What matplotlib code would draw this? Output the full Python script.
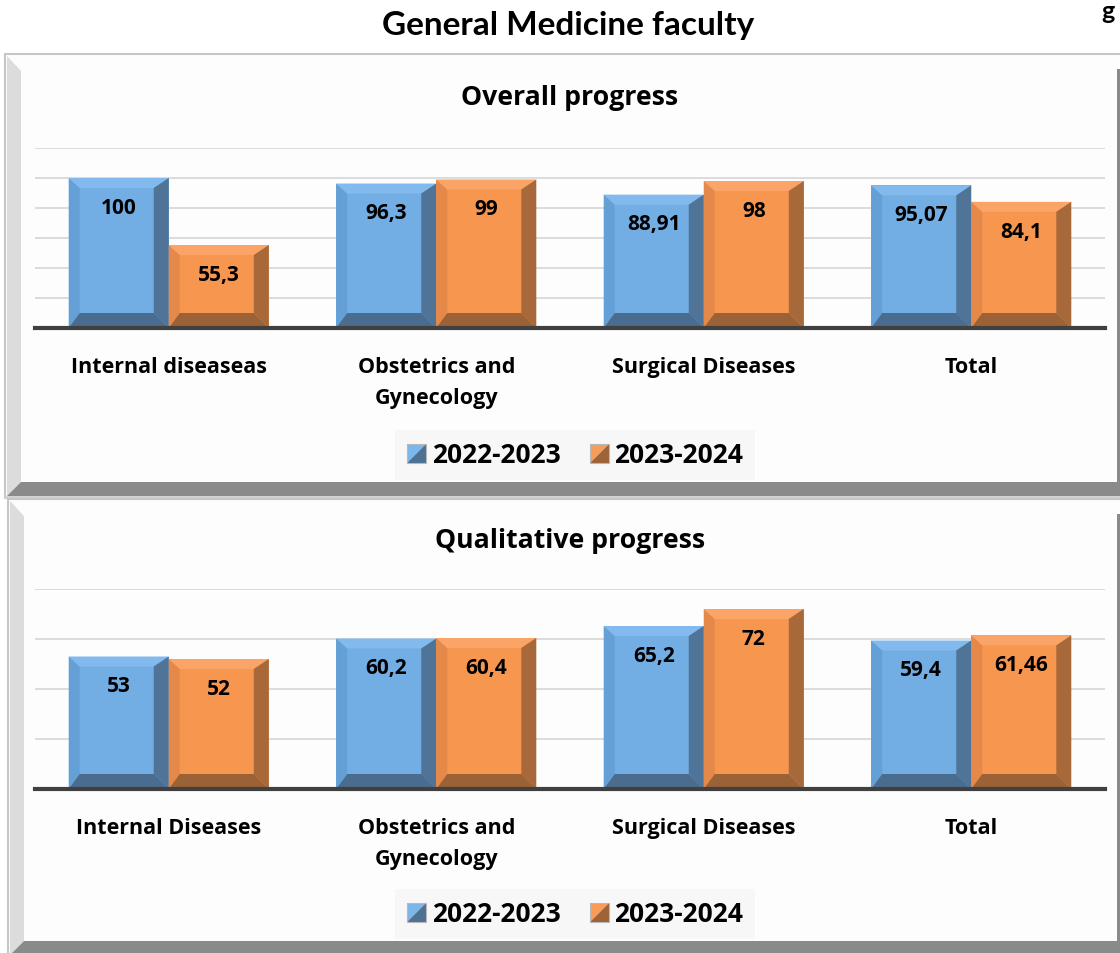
import matplotlib
matplotlib.use("Agg")
import matplotlib.pyplot as plt
from matplotlib.patches import Polygon, Rectangle
from matplotlib.legend_handler import HandlerBase

plt.rcParams["font.family"] = ["Open Sans", "DejaVu Sans"]

# data
cats_overall = ["Internal diseaseas", "Obstetrics and\nGynecology", "Surgical Diseases", "Total"]
cats_quality = ["Internal Diseases", "Obstetrics and\nGynecology", "Surgical Diseases", "Total"]
series_names = ["2022-2023", "2023-2024"]
overall_2223 = [100, 96.3, 88.91, 95.07]
overall_2324 = [55.3, 99, 98, 84.1]
quality_2223 = [53, 60.2, 65.2, 59.4]
quality_2324 = [52, 60.4, 72, 61.46]

W, H = 1120, 954

BLUE = dict(face="#72ADE4", top="#82BAEE", left="#64A0D6", right="#4F7497", bottom="#4A6C8E")
ORANGE = dict(face="#F7964F", top="#FAA467", left="#E4894A", right="#A8693A", bottom="#9C6237")


def fx(x):
    return x / W


def fy(y):
    return 1 - y / H


def fig_poly(fig, pts, color, z=0):
    p = Polygon([(fx(x), fy(y)) for x, y in pts], closed=True, facecolor=color,
                edgecolor="none", transform=fig.transFigure, zorder=z)
    fig.add_artist(p)


def draw_panel(fig, x0, y0, y1, bevel_top):
    # light outer box
    fig.add_artist(Rectangle((fx(x0), fy(y1 + 2)), 1.2, (y1 + 2 - y0) / H,
                             facecolor="#fdfdfd", edgecolor="#c6c6c6", lw=1.5,
                             transform=fig.transFigure, zorder=0))
    # left bevel, bottom band, right edge
    fig_poly(fig, [(x0 + 2, y0 + 2), (x0 + 16, y0 + 17), (x0 + 16, y1 - 14), (x0 + 2, y1)], "#dcdcdc")
    fig_poly(fig, [(x0 + 2, y1), (x0 + 16, y1 - 14), (W + 5, y1 - 14), (W + 5, y1)], "#8a8a8a")
    fig_poly(fig, [(W - 3, bevel_top), (W + 5, bevel_top), (W + 5, y1 - 14), (W - 3, y1 - 14)], "#8a8a8a")
    fig_poly(fig, [(x0, y1), (W + 5, y1), (W + 5, y1 + 3), (x0, y1 + 3)], "#d2d2d2")


def bevel_bars(ax, xs, vals, width, colors, ppx, ppy):
    bars = ax.bar(xs, vals, width, color=colors["face"], zorder=3)
    bl, br = 11 / ppx, 15 / ppx
    bt, bb = 10 / ppy, 15 / ppy
    for b in bars:
        x0 = b.get_x()
        x1 = x0 + b.get_width()
        h = b.get_height()
        parts = [
            ([(x0, 0), (x0 + bl, bb), (x0 + bl, h - bt), (x0, h)], colors["left"]),
            ([(x0, h), (x1, h), (x1 - br, h - bt), (x0 + bl, h - bt)], colors["top"]),
            ([(x1, 0), (x1, h), (x1 - br, h - bt), (x1 - br, bb)], colors["right"]),
            ([(x0, 0), (x1, 0), (x1 - br, bb), (x0 + bl, bb)], colors["bottom"]),
        ]
        for pts, c in parts:
            ax.add_patch(Polygon(pts, closed=True, facecolor=c, edgecolor="none", zorder=4))
        ax.annotate(f"{h:g}".replace(".", ","), (b.get_x() + b.get_width() / 2, h),
                    xytext=(0, -21), textcoords="offset points", ha="center", va="center",
                    fontsize=15, fontweight="bold", color="black", zorder=6)


class BevelSquareHandler(HandlerBase):
    def __init__(self, light, dark):
        super().__init__()
        self.light = light
        self.dark = dark

    def create_artists(self, legend, orig_handle, xdescent, ydescent, width, height, fontsize, trans):
        s = height * 1.0
        x0 = -xdescent + (width - s) / 2
        y0 = -ydescent + (height - s) / 2
        up = Polygon([(x0, y0), (x0, y0 + s), (x0 + s, y0 + s)], closed=True,
                     facecolor=self.light, edgecolor="none", transform=trans)
        lo = Polygon([(x0, y0), (x0 + s, y0), (x0 + s, y0 + s)], closed=True,
                     facecolor=self.dark, edgecolor="none", transform=trans)
        box = Rectangle((x0, y0), s, s, facecolor="none", edgecolor="#b8b8b8", lw=0.8, transform=trans)
        return [up, lo, box]


def make_chart(fig, rect, cats, vals_a, vals_b, ymax, title, title_y, legend_y):
    ax = fig.add_axes(rect)
    ax.set_facecolor("none")
    ax.set_xlim(-0.5, 3.5)
    ax.set_ylim(0, ymax)
    ppx = rect[2] * W / 4
    ppy = rect[3] * H / ymax
    width = 0.374
    xs = range(len(cats))
    bevel_bars(ax, [x - width / 2 for x in xs], vals_a, width, BLUE, ppx, ppy)
    bevel_bars(ax, [x + width / 2 for x in xs], vals_b, width, ORANGE, ppx, ppy)
    ax.set_yticks(range(20, ymax + 1, 20))
    ax.yaxis.grid(True, color="#d6d6d6", lw=1.2)
    ax.set_axisbelow(True)
    ax.axhline(0, color="#404040", lw=3, zorder=5, clip_on=False)
    for s in ax.spines.values():
        s.set_visible(False)
    ax.set_xticks(list(xs))
    ax.set_xticklabels(cats, fontsize=15.5, fontweight="bold", linespacing=1.65)
    ax.tick_params(axis="x", length=0, pad=20)
    ax.tick_params(axis="y", length=0, labelleft=False)

    fig.text(fx(570), fy(title_y), title, ha="center", va="center",
             fontsize=19.2, fontweight="bold")

    h1 = Rectangle((0, 0), 1, 1)
    h2 = Rectangle((0, 0), 1, 1)
    leg = fig.legend([h1, h2], series_names, loc="center",
                     bbox_to_anchor=(fx(575), fy(legend_y)), ncol=2,
                     handler_map={h1: BevelSquareHandler("#7BB6EC", "#4D7193"),
                                  h2: BevelSquareHandler("#F89C5C", "#9E6337")},
                     prop=dict(size=19, weight="bold"), frameon=True, fancybox=False,
                     facecolor="#f7f7f7", edgecolor="none", framealpha=1,
                     handlelength=0.75, handletextpad=0.2, columnspacing=1.1,
                     borderpad=0.45, borderaxespad=0)
    leg.get_frame().set_width(384)
    leg.set_zorder(2)
    return ax


fig = plt.figure(figsize=(W / 100, H / 100), dpi=100)
fig.patch.set_facecolor("white")

draw_panel(fig, 5, 55, 497, 70)
draw_panel(fig, 8, 500, 956, 515)

fig.text(fx(568), fy(25), "General Medicine faculty", ha="center", va="center",
         fontsize=24, fontweight="bold", family=["Lato", "DejaVu Sans"])
fig.text(fx(1108), fy(0), "g", ha="center", va="top", fontsize=18, fontweight="bold",
         family=["Lato", "DejaVu Sans"])

make_chart(fig, [fx(35), fy(329), 1070 / W, 180 / H], cats_overall,
           overall_2223, overall_2324, 120, "Overall progress", 98, 456)
make_chart(fig, [fx(35), fy(790), 1070 / W, 200 / H], cats_quality,
           quality_2223, quality_2324, 80, "Qualitative progress", 541, 915)

fig.savefig("out.png", dpi=100)
